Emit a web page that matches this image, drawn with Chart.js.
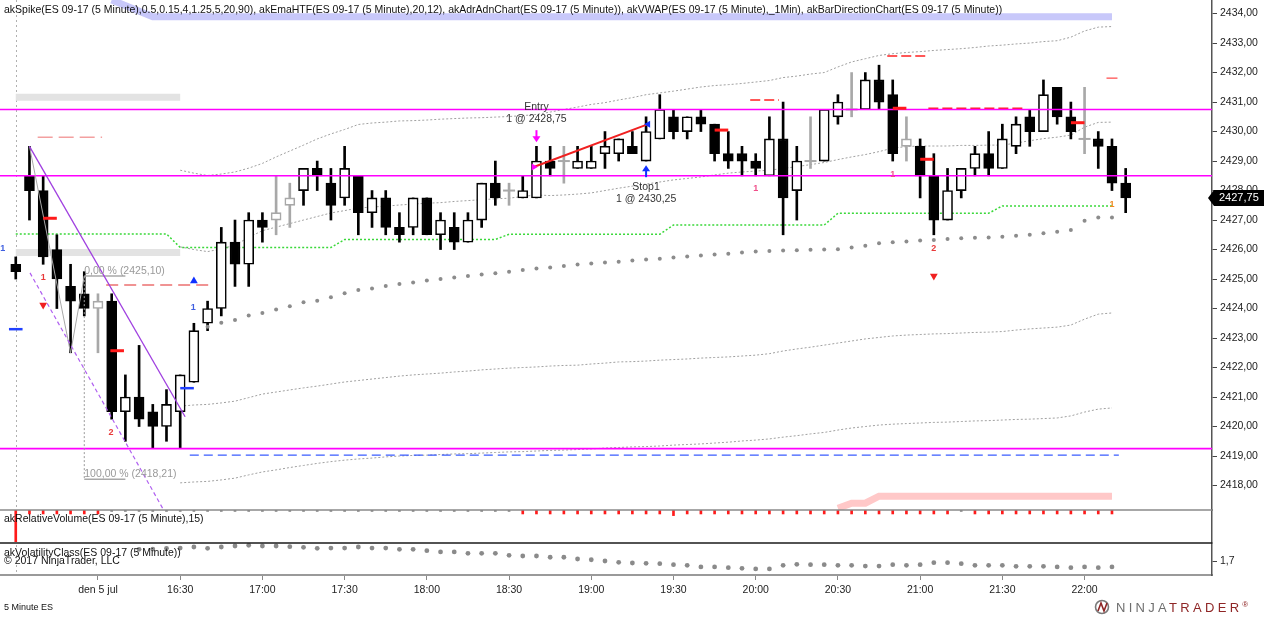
<!DOCTYPE html>
<html>
<head>
<meta charset="utf-8">
<script src="https://cdn.jsdelivr.net/npm/chart.js@4.4.1/dist/chart.umd.min.js"></script>
<style>
html,body{margin:0;padding:0;background:#fff;}
#wrap{position:relative;width:1264px;height:617px;overflow:hidden;}
#c{position:absolute;left:0;top:0;}
#period{position:absolute;left:4px;top:602px;font:9px "Liberation Sans",Arial,sans-serif;color:#111;}
#logo{position:absolute;left:1094px;top:599px;height:16px;font:13px "Liberation Sans",Arial,sans-serif;letter-spacing:3.3px;white-space:nowrap;}
#logo svg{vertical-align:-3px;margin-right:4px;}
#logo .n{color:#6e6e6e;}
#logo .t{color:#8f2626;}
#logo sup{font-size:8px;color:#8f2626;letter-spacing:0;}
</style>
</head>
<body>
<div id="wrap">
<canvas id="c" width="1264" height="617"></canvas>
<div id="period">5 Minute ES</div>
<div id="logo"><svg width="18" height="16" viewBox="0 0 18 16"><circle cx="8" cy="8" r="6.5" fill="none" stroke="#7a7a7a" stroke-width="1.6"/><path d="M4 12 L7 4 L10 12 L13 4" fill="none" stroke="#8f2626" stroke-width="1.6"/></svg><span class="n">NINJA</span><span class="t">TRADER</span><sup>®</sup></div>
</div>
<script>
// ES 09-17, 5 minute bars, 15:30 .. 22:15
const opens  = [2425.5,2428.5,2428,2426,2424.75,2424.5,2424,2424.25,2420.5,2421,2420.5,2420,
  2420.5,2421.5,2423.5,2424,2426.25,2425.5,2427,2427,2427.5,2428,2428.75,2428.25,
  2427.75,2428.5,2427.25,2427.75,2426.75,2426.75,2427.75,2426.5,2426.75,2426.25,2427,2428.25,
  2428,2427.75,2427.75,2429,2429,2428.75,2428.75,2429.25,2429.25,2429.5,2429,2429.75,
  2430.5,2430,2430.5,2430.25,2429.25,2429.25,2429,2428.5,2429.75,2428,2429,2429,
  2430.5,2430.75,2430.75,2431.75,2431.25,2429.5,2429.5,2428.5,2427,2428,2428.75,2429.25,
  2428.75,2429.5,2430.5,2430,2431.5,2430.5,2429.75,2429.75,2429.5,2428.25];
const highs  = [2425.75,2429.5,2428.5,2426.5,2425.5,2425.25,2424.5,2424.5,2421.75,2422.75,2420.75,2421.25,
  2421.75,2423.5,2424.25,2426.75,2427,2427.25,2427.25,2428.5,2428.25,2428.75,2429,2428.75,
  2429.5,2428.5,2428,2428,2427.25,2427.75,2427.75,2427.25,2427.25,2427.25,2428.25,2429,
  2428.25,2428.5,2429.5,2429.5,2429.5,2429.5,2429.5,2430,2429.75,2430,2430.5,2431.25,
  2430.75,2430.5,2430.75,2430.25,2430,2429.5,2429.25,2430.5,2431,2429.5,2430.5,2430.75,
  2431.25,2432,2432,2432.25,2431.75,2430.5,2429.75,2429.25,2428.75,2428.75,2429.5,2430,
  2430.25,2430.5,2430.75,2431.75,2431.5,2431,2431.5,2430,2429.75,2428.75];
const lows   = [2425,2427,2425.5,2424,2422.5,2423.75,2422.5,2420.25,2419.5,2420,2419.25,2419.5,
  2419.25,2421.5,2423.25,2423.75,2424.75,2424.75,2426.25,2426.5,2426.75,2427.5,2428,2427,
  2427.5,2426.5,2426.75,2426.5,2426.25,2426.5,2426.5,2426,2426,2426.25,2426.75,2427.5,
  2427.5,2427.75,2427.75,2428.5,2428.25,2428.75,2428.75,2428.75,2429,2429.25,2429,2429.75,
  2429.75,2429.75,2430,2429,2428.75,2428.5,2428.5,2428.5,2426.5,2427,2428.75,2429,
  2430.25,2430.5,2430.75,2430.75,2429,2429,2427.75,2426.5,2427,2427.75,2428.5,2428.5,
  2428.75,2429.25,2429.5,2430,2430.25,2429.75,2429.25,2428.75,2428,2427.25];
const closes = [2425.25,2428,2425.75,2425,2424.25,2424,2424.25,2420.5,2421,2420.25,2420,2420.75,
  2421.75,2423.25,2424,2426.25,2425.5,2427,2426.75,2427.25,2427.75,2428.75,2428.5,2427.5,
  2428.75,2427.25,2427.75,2426.75,2426.5,2427.75,2426.5,2427,2426.25,2427,2428.25,2427.75,
  2428,2428,2429,2428.75,2429,2429,2429,2429.5,2429.75,2429.25,2430,2430.75,
  2430,2430.5,2430.25,2429.25,2429,2429,2428.75,2429.75,2427.75,2429,2429,2430.75,
  2431,2430.75,2431.75,2431,2429.25,2429.75,2428.5,2427,2428,2428.75,2429.25,2428.75,
  2429.75,2430.25,2430,2431.25,2430.5,2430,2429.75,2429.5,2428.25,2427.75];
// bars painted neutral (grey) by akBarDirectionChart
const neutralBars = [6,19,20,36,40,58,61,65,78];

// akEmaHTF, bars 0..80
const emaHtf = [2426.53,2426.53,2426.53,2426.53,2426.53,2426.53,2426.53,2426.53,2426.53,2426.53,2426.53,2426.53,
  2426.07,2426.07,2426.07,2426.07,2426.07,2426.07,2426.07,2426.07,2426.07,2426.07,2426.07,2426.07,
  2426.34,2426.34,2426.34,2426.34,2426.34,2426.34,2426.34,2426.34,2426.34,2426.34,2426.34,2426.34,
  2426.52,2426.52,2426.52,2426.52,2426.52,2426.52,2426.52,2426.52,2426.52,2426.52,2426.52,2426.52,
  2426.83,2426.83,2426.83,2426.83,2426.83,2426.83,2426.83,2426.83,2426.83,2426.83,2426.83,2426.83,
  2427.23,2427.23,2427.23,2427.23,2427.23,2427.23,2427.23,2427.23,2427.23,2427.23,2427.23,2427.23,
  2427.48,2427.48,2427.48,2427.48,2427.48,2427.48,2427.48,2427.48,2427.48];

// akAdrAdnChart lines, bars 12..80
const adrStart = 12;
const adrUpper2 = [2428.69,2428.59,2428.51,2428.56,2428.63,2428.76,2428.92,2429.14,2429.34,2429.54,2429.75,2429.92,
  2430.07,2430.24,2430.29,2430.32,2430.36,2430.37,2430.39,2430.42,2430.44,2430.46,2430.47,2430.49,
  2430.51,2430.54,2430.58,2430.66,2430.75,2430.83,2430.92,2430.98,2431.07,2431.15,2431.25,2431.31,
  2431.37,2431.44,2431.51,2431.56,2431.59,2431.63,2431.68,2431.73,2431.83,2431.88,2431.95,2432.0,
  2432.19,2432.36,2432.47,2432.58,2432.64,2432.68,2432.71,2432.75,2432.78,2432.81,2432.85,2432.9,
  2432.93,2432.97,2433.0,2433.05,2433.08,2433.2,2433.41,2433.54,2433.56];
const adrUpper1 = [2426.09,2426.0,2425.93,2426.02,2426.15,2426.41,2426.64,2426.76,2426.88,2427.0,2427.12,2427.24,
  2427.32,2427.41,2427.44,2427.47,2427.51,2427.54,2427.57,2427.59,2427.63,2427.66,2427.69,2427.72,
  2427.74,2427.8,2427.85,2427.83,2427.85,2427.88,2427.92,2428.0,2428.08,2428.15,2428.22,2428.29,
  2428.36,2428.41,2428.46,2428.53,2428.59,2428.63,2428.66,2428.69,2428.75,2428.81,2428.88,2428.95,
  2429.05,2429.14,2429.22,2429.32,2429.44,2429.49,2429.51,2429.51,2429.51,2429.53,2429.53,2429.54,
  2429.54,2429.61,2429.69,2429.76,2429.81,2429.88,2430.15,2430.31,2430.32];
const adrLower1 = [2420.69,2420.73,2420.75,2420.8,2420.86,2420.98,2421.1,2421.17,2421.24,2421.31,2421.37,2421.44,
  2421.51,2421.56,2421.61,2421.66,2421.71,2421.75,2421.78,2421.81,2421.85,2421.88,2421.92,2421.95,
  2421.98,2422.0,2422.02,2422.05,2422.07,2422.08,2422.12,2422.15,2422.19,2422.2,2422.22,2422.25,
  2422.27,2422.29,2422.32,2422.34,2422.36,2422.39,2422.42,2422.47,2422.56,2422.63,2422.69,2422.76,
  2422.83,2422.9,2422.97,2423.02,2423.07,2423.1,2423.12,2423.14,2423.15,2423.17,2423.19,2423.2,
  2423.22,2423.27,2423.31,2423.34,2423.37,2423.44,2423.64,2423.81,2423.85];
const adrLower2 = [2418.09,2418.12,2418.14,2418.19,2418.25,2418.36,2418.46,2418.53,2418.61,2418.68,2418.75,2418.81,
  2418.86,2418.9,2418.93,2418.97,2419.0,2419.02,2419.03,2419.05,2419.07,2419.08,2419.1,2419.12,
  2419.14,2419.15,2419.17,2419.19,2419.2,2419.22,2419.24,2419.27,2419.29,2419.31,2419.32,2419.34,
  2419.37,2419.39,2419.41,2419.44,2419.47,2419.51,2419.54,2419.58,2419.64,2419.69,2419.75,2419.8,
  2419.88,2419.95,2420.0,2420.05,2420.08,2420.1,2420.12,2420.14,2420.15,2420.17,2420.19,2420.2,
  2420.22,2420.24,2420.25,2420.27,2420.29,2420.36,2420.49,2420.59,2420.63];

// akVWAP dots, bars 14..80
const vwapStart = 14;
const vwap = [2423.38,2423.52,2423.61,2423.76,2423.85,2423.97,2424.08,2424.21,2424.26,2424.38,
  2424.52,2424.63,2424.68,2424.76,2424.83,2424.88,2424.95,2425.0,2425.05,2425.1,
  2425.15,2425.2,2425.25,2425.31,2425.36,2425.39,2425.44,2425.49,2425.53,2425.56,
  2425.59,2425.63,2425.66,2425.69,2425.73,2425.76,2425.8,2425.83,2425.86,2425.9,
  2425.93,2425.95,2425.97,2425.98,2425.99,2426.0,2426.01,2426.07,2426.13,2426.21,
  2426.25,2426.27,2426.31,2426.32,2426.36,2426.38,2426.4,2426.41,2426.43,2426.47,
  2426.5,2426.55,2426.6,2426.66,2426.98,2427.09,2427.09];

// akRelativeVolume, bars 0..80
const relVolume = [9.6,1.2,1.2,1.2,1.2,1.2,1.2,
  0.45,0.45,0.45,0.45,0.45,0.45,0.45,0.45,0.45,0.45,0.45,0.45,0.45,0.45,0.45,
  0.45,0.45,0.45,0.45,0.45,0.45,0.45,0.45,0.45,0.45,0.45,0.45,0.45,0.45,0.45,
  1.2,1.2,1.2,1.2,1.2,1.2,1.2,1.2,1.2,1.2,1.2,1.7,
  1.2,1.2,1.2,1.2,1.2,1.2,1.2,1.2,1.2,1.2,1.2,1.2,1.2,1.2,1.2,1.2,1.2,1.2,1.2,1.2,
  0.45,1.2,1.2,1.2,1.2,1.2,1.2,1.2,1.2,1.2,1.2,1.2];

// akVolatilityClass, bars 9..80
const vcStart = 9;
const volClass = [1.831,1.834,1.842,1.845,1.856,1.842,1.856,1.867,1.875,1.867,1.867,1.86,
  1.853,1.842,1.845,1.845,1.856,1.845,1.845,1.831,1.831,1.816,1.802,1.802,
  1.787,1.787,1.787,1.765,1.758,1.758,1.744,1.744,1.725,1.717,1.703,1.689,
  1.681,1.678,1.674,1.663,1.656,1.638,1.638,1.63,1.623,1.616,1.616,1.656,
  1.667,1.663,1.663,1.656,1.656,1.648,1.648,1.663,1.656,1.663,1.685,1.685,
  1.674,1.656,1.656,1.656,1.645,1.645,1.645,1.638,1.63,1.638,1.63,1.638];

// horizontal levels across the chart
const levels = [2430.75, 2428.5, 2419.25];
// [fromBar, toBar, price]
const salmonDashes = [[1.6, 6.3, 2429.81], [6.6, 14.3, 2424.8]];
const redDashes = [[53.6, 55.7, 2431.07], [63.6, 66.4, 2432.56], [66.6, 73.5, 2430.79]];
const blueDashes = [[12.7, 80.5, 2419.03]];
const lightRedSegs = [[79.6, 80.4, 2431.81]];
// bands [bars], [prices]
const spikeBandBars = [7, 10, 80], spikeBandPrices = [2434.46, 2433.89, 2433.89];
const pinkBandBars = [60, 61, 62, 63, 80], pinkBandPrices = [2417.23, 2417.4, 2417.4, 2417.64, 2417.64];
const greyBoxBars = [0, 12], greyBoxPrices = [2431.16, 2425.9];

// bar direction markers
const redTicks = [[2.5, 2427.06], [7.4, 2422.57], [51.5, 2430.05], [64.5, 2430.79], [66.5, 2429.06], [77.5, 2430.3]];
const blueTicks = [[0, 2423.3], [12.5, 2421.3]];
const downTriangles = [[2, 2424.12], [67, 2425.1]];
const upTriangles = [[13, 2424.93]];
const signalLabels = [
  [-0.95, 2426.04, '1', '#3f5fe0'], [2, 2425.04, '1', '#e83a3a'], [6.95, 2419.79, '2', '#e83a3a'],
  [12.95, 2424.03, '1', '#3f5fe0'], [54, 2428.07, '1', '#f0508a'], [64, 2428.53, '1', '#f0508a'],
  [67, 2426.04, '2', '#e83a3a'], [80, 2427.54, '1', '#f08a20']];

// drawings
const channelTop = [[1, 2429.5], [12.36, 2420.33]];
const channelBottom = [[1.04, 2425.21], [11.3, 2416.75]];
const swingLine = [[1, 2429.5], [4, 2422.5], [5, 2425.1]];
const fibBar = 5, fibEndBar = 8, fibHigh = 2425.10, fibLow = 2418.21;
const sessionStartBar = 0;

// trade
const entryBar = 38, entryPrice = 2428.75, exitBar = 46, exitPrice = 2430.25;
const tradeLine = [[37.8, 2428.8], [46.15, 2430.25]];
const entryArrowPrice = 2429.64, stopArrowPrice = 2428.86;

// axes
const xTickBars = [6, 12, 18, 24, 30, 36, 42, 48, 54, 60, 66, 72, 78];
const xTickLabels = ['den 5 jul', '16:30', '17:00', '17:30', '18:00', '18:30', '19:00', '19:30', '20:00', '20:30', '21:00', '21:30', '22:00'];
const yTicks = [2418, 2419, 2420, 2421, 2422, 2423, 2424, 2425, 2426, 2427, 2428, 2429, 2430, 2431, 2432, 2433, 2434];
const vcTicks = [1.7];

const FONT = '"Liberation Sans", Arial, sans-serif';
Chart.defaults.font.family = FONT;
Chart.defaults.font.size = 10.5;
Chart.defaults.color = '#222';

const fmt = v => v.toFixed(2).replace('.', ',');
const isNeutral = i => neutralBars.includes(i);
const pts = arr => arr.map(p => ({x: p[0], y: p[1]}));
const series = (start, vals) => vals.map((v, k) => ({x: start + k, y: v}));
const seg = s => [{x: s[0], y: s[2]}, {x: s[1], y: s[2]}];
const poly = (bars, prices) => bars.map((b, k) => ({x: b, y: prices[k]}));

function lineDs(data, color, width, dash, order, extra) {
  return Object.assign({type: 'line', data, borderColor: color, borderWidth: width, borderDash: dash || [],
    pointRadius: 0, pointHoverRadius: 0, fill: false, tension: 0, order, yAxisID: 'y'}, extra || {});
}
function markDs(data, extra) {
  return Object.assign({type: 'line', data, showLine: false, yAxisID: 'y', pointHoverRadius: 0}, extra);
}

const idx = opens.map((o, i) => i);
const datasets = [];

// background bands
datasets.push(lineDs(poly(spikeBandBars, spikeBandPrices), '#c8c8fa', 7, null, 30));
datasets.push(lineDs(poly(pinkBandBars, pinkBandPrices), '#ffc8c8', 7, null, 30));
greyBoxPrices.forEach(p => datasets.push(lineDs(greyBoxBars.map(b => ({x: b, y: p})), '#e3e3e3', 7, null, 30)));

// indicator lines
[adrUpper2, adrUpper1, adrLower1, adrLower2].forEach(a =>
  datasets.push(lineDs(series(adrStart, a), '#a0a0a0', 1, [2, 2], 20)));
datasets.push(lineDs(series(0, emaHtf), '#3ad83a', 1.5, [2, 2], 20));

// candles
datasets.push({type: 'bar', yAxisID: 'y', order: 6, grouped: false, barThickness: 2,
  data: idx.map(i => ({x: i, y: [lows[i], highs[i]]})),
  backgroundColor: idx.map(i => isNeutral(i) ? '#a8a8a8' : '#000')});
datasets.push({type: 'bar', yAxisID: 'y', order: 5, grouped: false, barThickness: 10,
  borderSkipped: false, borderWidth: 1.6,
  data: idx.map(i => ({x: i, y: [opens[i], closes[i]]})),
  backgroundColor: idx.map(i => closes[i] >= opens[i] ? '#fff' : '#000'),
  borderColor: idx.map(i => isNeutral(i) ? '#a8a8a8' : '#000')});
datasets.push(markDs(idx.filter(i => opens[i] === closes[i]).map(i => ({x: i, y: closes[i]})),
  {order: 4, pointStyle: 'line', pointRadius: 6, pointBorderWidth: 2, pointBorderColor: '#a8a8a8'}));

// vwap dots
datasets.push(markDs(series(vwapStart, vwap), {order: 3, pointRadius: 2, pointBorderWidth: 0, pointBackgroundColor: '#8c8c8c'}));

// levels and dashes
levels.forEach(l => datasets.push(lineDs([{x: -5, y: l}, {x: 95, y: l}], '#ff00ff', 1.6, null, 2)));
salmonDashes.forEach((s, k) => datasets.push(lineDs(seg(s), k ? '#ec7070' : '#f3a0a0', 1.5, k ? [12, 6] : [15, 6], 2)));
redDashes.forEach(s => datasets.push(lineDs(seg(s), '#ff2020', 1.5, [10, 4], 2)));
blueDashes.forEach(s => datasets.push(lineDs(seg(s), '#3a5cff', 1.3, [9, 5], 2)));
lightRedSegs.forEach(s => datasets.push(lineDs(seg(s), '#ff6a6a', 1.5, null, 2)));

// drawings
datasets.push(lineDs(pts(channelTop), '#a040e0', 1.3, null, 1));
datasets.push(lineDs(pts(channelBottom), '#b060f0', 1.2, [4, 3], 1));
datasets.push(lineDs(pts(swingLine), '#a8a8a8', 1, null, 1));
datasets.push(lineDs([{x: fibBar, y: fibHigh}, {x: fibEndBar, y: fibHigh}], '#a8a8a8', 1.5, null, 1));
datasets.push(lineDs([{x: fibBar, y: fibLow}, {x: fibEndBar, y: fibLow}], '#a8a8a8', 1.5, null, 1));
datasets.push(lineDs([{x: fibBar, y: fibHigh}, {x: fibBar, y: fibLow}], '#9a9a9a', 1, [2, 2], 1));
datasets.push(lineDs(pts(tradeLine), '#f02020', 2, null, 1));

// markers
datasets.push(markDs(pts(redTicks), {order: 0, pointStyle: 'line', pointRadius: 6.8, pointBorderWidth: 3, pointBorderColor: '#ff1a1a'}));
datasets.push(markDs(pts(blueTicks), {order: 0, pointStyle: 'line', pointRadius: 6.8, pointBorderWidth: 2.5, pointBorderColor: '#2040ff'}));
datasets.push(markDs(pts(downTriangles), {order: 0, pointStyle: 'triangle', pointRotation: 180, pointRadius: 4.5, pointBorderWidth: 0, pointBackgroundColor: '#f02020'}));
datasets.push(markDs(pts(upTriangles), {order: 0, pointStyle: 'triangle', pointRadius: 4.5, pointBorderWidth: 0, pointBackgroundColor: '#1030ff'}));
datasets.push(markDs([{x: tradeLine[0][0], y: tradeLine[0][1]}], {order: 0, pointStyle: 'triangle', pointRotation: 90, pointRadius: 4, pointBorderWidth: 0, pointBackgroundColor: '#ff00ff'}));
datasets.push(markDs([{x: tradeLine[1][0], y: tradeLine[1][1]}], {order: 0, pointStyle: 'triangle', pointRotation: -90, pointRadius: 4, pointBorderWidth: 0, pointBackgroundColor: '#1030ff'}));

// lower panels
datasets.push({type: 'bar', yAxisID: 'yRV', order: 0, grouped: false, barThickness: 2,
  data: relVolume.map((v, i) => ({x: i, y: v})),
  backgroundColor: relVolume.map(v => v >= 1 ? '#ff1a1a' : '#8a8a8a')});
datasets.push(markDs(series(vcStart, volClass), {yAxisID: 'yVC', order: 0, pointRadius: 2.4, pointBorderWidth: 0, pointBackgroundColor: '#8a8a8a'}));

const overlay = {
  id: 'overlay',
  beforeDatasetsDraw(chart) {
    const {ctx, chartArea: a, scales: {x}} = chart;
    const sx = Math.round(x.getPixelForValue(sessionStartBar)) + 0.5;
    ctx.save();
    ctx.strokeStyle = '#b0b0b0'; ctx.lineWidth = 1; ctx.setLineDash([2, 3]);
    ctx.beginPath(); ctx.moveTo(sx, a.top); ctx.lineTo(sx, a.bottom); ctx.stroke();
    ctx.restore();
  },
  afterDraw(chart) {
    const {ctx, chartArea: a, scales: {x, y, yRV, yVC}} = chart;
    ctx.save();
    // panel separators
    ctx.lineWidth = 1.5;
    ctx.strokeStyle = '#8a8a8a';
    ctx.beginPath(); ctx.moveTo(a.left, yRV.top); ctx.lineTo(a.right, yRV.top); ctx.stroke();
    ctx.strokeStyle = '#1a1a1a';
    ctx.beginPath(); ctx.moveTo(a.left, yVC.top); ctx.lineTo(a.right, yVC.top); ctx.stroke();

    // titles
    ctx.font = '10.5px ' + FONT; ctx.fillStyle = '#111'; ctx.textBaseline = 'middle'; ctx.textAlign = 'left';
    ctx.fillText('akSpike(ES 09-17 (5 Minute),0.5,0.15,4,1.25,5,20,90), akEmaHTF(ES 09-17 (5 Minute),20,12), akAdrAdnChart(ES 09-17 (5 Minute)), akVWAP(ES 09-17 (5 Minute),_1Min), akBarDirectionChart(ES 09-17 (5 Minute))', 4, 10);
    ctx.fillText('akRelativeVolume(ES 09-17 (5 Minute),15)', 4, yRV.top + 9);
    ctx.fillText('akVolatilityClass(ES 09-17 (5 Minute))', 4, yVC.top + 10);
    ctx.fillText('© 2017 NinjaTrader, LLC', 4, yVC.top + 18);

    // fib texts
    ctx.fillStyle = '#9a9a9a';
    const fx = x.getPixelForValue(fibBar);
    ctx.fillText('0,00 % (' + fmt(fibHigh) + ')', fx, y.getPixelForValue(fibHigh) - 5);
    ctx.fillText('100,00 % (' + fmt(fibLow) + ')', fx, y.getPixelForValue(fibLow) - 5);

    // signal counts
    ctx.font = 'bold 9px ' + FONT; ctx.textAlign = 'center';
    signalLabels.forEach(s => {
      ctx.fillStyle = s[3];
      ctx.fillText(s[2], x.getPixelForValue(s[0]), y.getPixelForValue(s[1]));
    });

    // entry / stop arrows and texts
    const ex = x.getPixelForValue(entryBar), et = y.getPixelForValue(entryArrowPrice);
    ctx.fillStyle = '#ff00ff';
    ctx.fillRect(ex - 1, et - 12, 2, 7);
    ctx.beginPath(); ctx.moveTo(ex - 4, et - 6); ctx.lineTo(ex + 4, et - 6); ctx.lineTo(ex, et); ctx.closePath(); ctx.fill();
    const sx = x.getPixelForValue(exitBar), st = y.getPixelForValue(stopArrowPrice);
    ctx.fillStyle = '#1030ff';
    ctx.fillRect(sx - 1, st + 5, 2, 7);
    ctx.beginPath(); ctx.moveTo(sx - 4, st + 6); ctx.lineTo(sx + 4, st + 6); ctx.lineTo(sx, st); ctx.closePath(); ctx.fill();
    ctx.font = '10.5px ' + FONT; ctx.fillStyle = '#333'; ctx.textAlign = 'center';
    ctx.fillText('Entry', ex, et - 35);
    ctx.fillText('1 @ ' + fmt(entryPrice), ex, et - 23);
    ctx.fillText('Stop1', sx, st + 22);
    ctx.fillText('1 @ ' + fmt(exitPrice), sx, st + 34);

    // last price box
    const last = closes[closes.length - 1];
    const py = Math.round(y.getPixelForValue(last));
    const bx = y.left;
    ctx.fillStyle = '#000';
    ctx.beginPath();
    ctx.moveTo(bx - 4, py); ctx.lineTo(bx + 2, py - 8); ctx.lineTo(chart.width, py - 8);
    ctx.lineTo(chart.width, py + 8); ctx.lineTo(bx + 2, py + 8); ctx.closePath(); ctx.fill();
    ctx.fillStyle = '#fff'; ctx.textAlign = 'left'; ctx.font = '11px ' + FONT;
    ctx.fillText(fmt(last), bx + 7, py);
    ctx.restore();
  }
};

// no edge padding: the reference fills the canvas to the top and left edges
const noPad = s => { s.paddingLeft = 0; s.paddingRight = 0; s.paddingTop = 0; s.paddingBottom = 0; };
const axisW = s => { noPad(s); s.width = 52; };

new Chart(document.getElementById('c'), {
  type: 'bar',
  data: {datasets},
  options: {
    responsive: false,
    devicePixelRatio: 1,
    animation: false,
    events: [],
    layout: {padding: 0, autoPadding: false},
    plugins: {legend: {display: false}, tooltip: {enabled: false}},
    scales: {
      x: {
        type: 'linear', position: 'bottom', min: -1.15, max: 87.3, offset: false,
        afterFit(s) { noPad(s); s.height = 42; },
        afterBuildTicks(s) { s.ticks = xTickBars.map(v => ({value: v})); },
        grid: {offset: false, drawOnChartArea: false, drawTicks: true, tickLength: 5, color: '#888'},
        border: {display: true, color: '#9a9a9a', width: 2},
        ticks: {autoSkip: false, maxRotation: 0, padding: 4, color: '#222',
          callback: v => xTickLabels[xTickBars.indexOf(v)]}
      },
      y: {
        type: 'linear', position: 'right', stack: 'panes', stackWeight: 510,
        min: 2417.17, max: 2434.46, afterFit: axisW,
        afterBuildTicks(s) { s.ticks = yTicks.map(v => ({value: v})); },
        grid: {drawOnChartArea: false, drawTicks: true, tickLength: 5, color: '#444'},
        border: {display: true, color: '#555', width: 1.5},
        ticks: {padding: 3, color: '#222', callback: v => fmt(v)}
      },
      yRV: {
        type: 'linear', position: 'right', stack: 'panes', stackWeight: 33,
        min: 0, max: 10, reverse: true, afterFit: axisW,
        grid: {display: false},
        border: {display: true, color: '#555', width: 1.5},
        ticks: {display: false}
      },
      yVC: {
        type: 'linear', position: 'right', stack: 'panes', stackWeight: 32,
        min: 1.55, max: 1.9, afterFit: axisW,
        afterBuildTicks(s) { s.ticks = vcTicks.map(v => ({value: v})); },
        grid: {drawOnChartArea: false, drawTicks: true, tickLength: 5, color: '#444'},
        border: {display: true, color: '#555', width: 1.5},
        ticks: {padding: 3, color: '#222', callback: v => v.toFixed(1).replace('.', ',')}
      }
    }
  },
  plugins: [overlay]
});
</script>
</body>
</html>
